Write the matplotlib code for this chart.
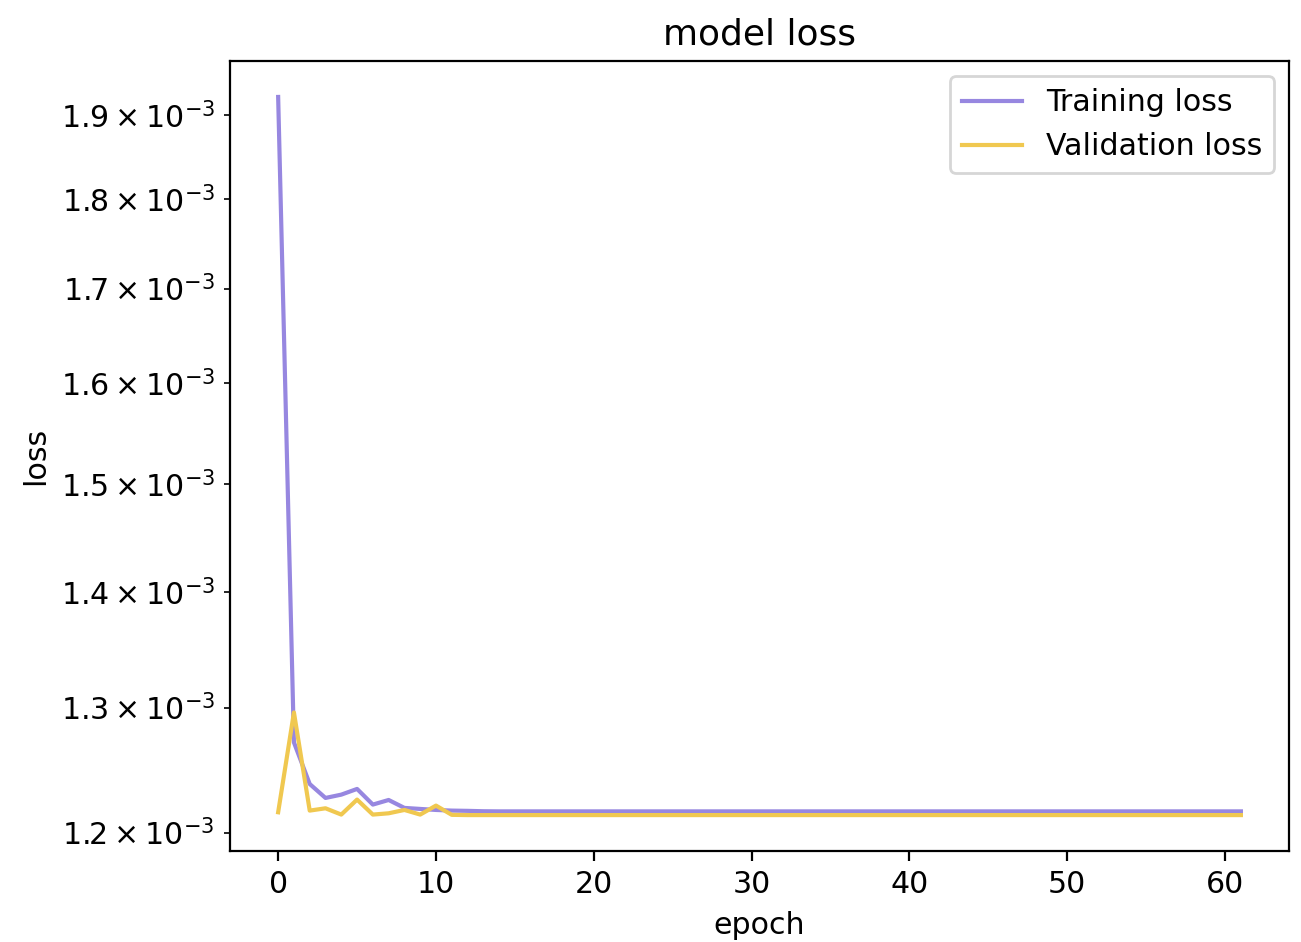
import matplotlib
matplotlib.use("Agg")
import matplotlib.pyplot as plt

plt.rcParams["font.size"] = 10.8

# loss per epoch (62 epochs, 0..61)
epochs = list(range(62))
train_loss = [
    1.9219e-3, 1.2713e-3, 1.2379e-3, 1.2269e-3, 1.2295e-3, 1.2340e-3,
    1.2217e-3, 1.2253e-3, 1.2191e-3, 1.2183e-3, 1.2175e-3, 1.2170e-3,
    1.2168e-3, 1.2165e-3, 1.2164e-3, 1.2164e-3, 1.2164e-3, 1.2164e-3,
    1.2164e-3, 1.2164e-3, 1.2164e-3, 1.2164e-3, 1.2164e-3, 1.2164e-3,
    1.2164e-3, 1.2164e-3, 1.2164e-3, 1.2164e-3, 1.2164e-3, 1.2164e-3,
    1.2164e-3, 1.2164e-3, 1.2164e-3, 1.2164e-3, 1.2164e-3, 1.2164e-3,
    1.2164e-3, 1.2164e-3, 1.2164e-3, 1.2164e-3, 1.2164e-3, 1.2164e-3,
    1.2164e-3, 1.2164e-3, 1.2164e-3, 1.2164e-3, 1.2164e-3, 1.2164e-3,
    1.2164e-3, 1.2164e-3, 1.2164e-3, 1.2164e-3, 1.2164e-3, 1.2164e-3,
    1.2164e-3, 1.2164e-3, 1.2164e-3, 1.2164e-3, 1.2164e-3, 1.2164e-3,
    1.2164e-3, 1.2164e-3,
]
val_loss = [
    1.2157e-3, 1.2959e-3, 1.2170e-3, 1.2188e-3, 1.2139e-3, 1.2256e-3,
    1.2139e-3, 1.2149e-3, 1.2175e-3, 1.2139e-3, 1.2209e-3, 1.2137e-3,
    1.2135e-3, 1.2135e-3, 1.2135e-3, 1.2135e-3, 1.2135e-3, 1.2135e-3,
    1.2135e-3, 1.2135e-3, 1.2135e-3, 1.2135e-3, 1.2135e-3, 1.2135e-3,
    1.2135e-3, 1.2135e-3, 1.2135e-3, 1.2135e-3, 1.2135e-3, 1.2135e-3,
    1.2135e-3, 1.2135e-3, 1.2135e-3, 1.2135e-3, 1.2135e-3, 1.2135e-3,
    1.2135e-3, 1.2135e-3, 1.2135e-3, 1.2135e-3, 1.2135e-3, 1.2135e-3,
    1.2135e-3, 1.2135e-3, 1.2135e-3, 1.2135e-3, 1.2135e-3, 1.2135e-3,
    1.2135e-3, 1.2135e-3, 1.2135e-3, 1.2135e-3, 1.2135e-3, 1.2135e-3,
    1.2135e-3, 1.2135e-3, 1.2135e-3, 1.2135e-3, 1.2135e-3, 1.2135e-3,
    1.2135e-3, 1.2135e-3,
]

fig, ax = plt.subplots(figsize=(6.505, 4.71), dpi=200)
fig.subplots_adjust(left=0.1768, right=0.9908, top=0.9352, bottom=0.0966)

ax.plot(epochs, train_loss, color="#9787E0", linewidth=1.5, label="Training loss")
ax.plot(epochs, val_loss, color="#F0C850", linewidth=1.5, label="Validation loss")
ax.set_yscale("log")
ax.set_title("model loss")
ax.set_xlabel("epoch")
ax.set_ylabel("loss")
ax.legend(loc="upper right")

fig.savefig("out.png", dpi=200)
